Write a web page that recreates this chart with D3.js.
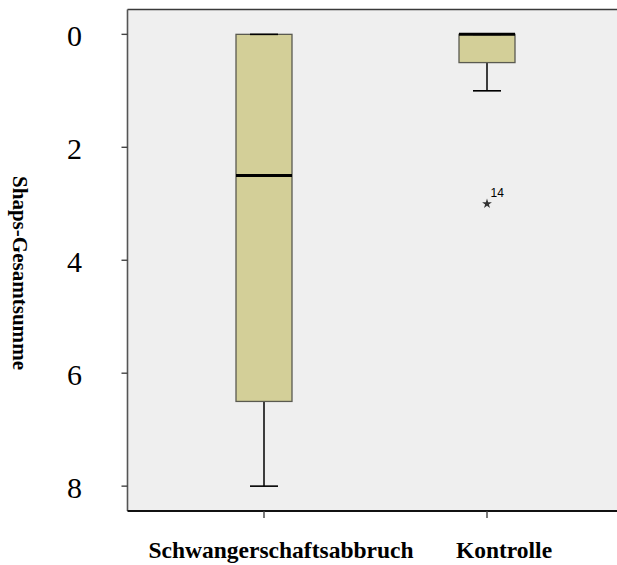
<!DOCTYPE html>
<html>
<head>
<meta charset="utf-8">
<script src="https://cdn.jsdelivr.net/npm/d3@7"></script>
<style>
  html, body { margin: 0; padding: 0; background: #ffffff; }
  svg { display: block; }
</style>
</head>
<body>
<svg id="chart" width="617" height="565"></svg>
<script>
// Box plot summaries per group (Shaps total score)
const categories = ["Schwangerschaftsabbruch", "Kontrolle"];
const whiskerLow = [0, 0];
const q1Values = [0, 0];
const medians = [2.5, 0];
const q3Values = [6.5, 0.5];
const whiskerHigh = [8, 1];
const outlierGroups = ["Kontrolle"];
const outlierValues = [3];
const outlierLabels = ["14"];
const yTicks = [0, 2, 4, 6, 8];
const yTitle = "Shaps-Gesamtsumme";

const svg = d3.select("#chart");

const plot = { left: 127.5, top: 9.5, right: 618, bottom: 511 };

// Inverted value axis: 0 at the top
const y = d3.scaleLinear().domain([-0.44, 8.44]).range([plot.top, plot.bottom]);
const x = d3.scalePoint().domain(categories).range([264, 487]);
const boxW = 56, capW = 28;

// plot background
svg.append("rect")
  .attr("x", plot.left).attr("y", plot.top)
  .attr("width", plot.right - plot.left).attr("height", plot.bottom - plot.top)
  .attr("fill", "#efefef");

// frame lines
svg.append("line").attr("x1", plot.left).attr("x2", plot.right)
  .attr("y1", plot.top).attr("y2", plot.top)
  .attr("stroke", "#3a3a3a").attr("stroke-width", 1.6);
svg.append("line").attr("x1", plot.left).attr("x2", plot.left)
  .attr("y1", plot.top).attr("y2", plot.bottom)
  .attr("stroke", "#555").attr("stroke-width", 1.6);
svg.append("line").attr("x1", plot.left).attr("x2", plot.right)
  .attr("y1", plot.bottom).attr("y2", plot.bottom)
  .attr("stroke", "#111").attr("stroke-width", 2);

// y axis ticks and labels
const yAxis = svg.append("g");
yAxis.selectAll("line.tick").data(yTicks).join("line")
  .attr("class", "tick")
  .attr("x1", plot.left - 6).attr("x2", plot.left)
  .attr("y1", d => y(d)).attr("y2", d => y(d))
  .attr("stroke", "#444").attr("stroke-width", 1.4);
yAxis.selectAll("text").data(yTicks).join("text")
  .attr("x", 74.5).attr("y", d => y(d) + 11.5)
  .attr("text-anchor", "middle")
  .attr("font-family", "'Liberation Serif', 'Times New Roman', serif")
  .attr("font-size", 30).attr("fill", "#000")
  .text(d => d);

// y axis title
svg.append("text")
  .attr("transform", "translate(13,176) rotate(90)")
  .attr("font-family", "'Liberation Serif', 'Times New Roman', serif")
  .attr("font-weight", "bold").attr("font-size", 20)
  .attr("textLength", 194).attr("lengthAdjust", "spacingAndGlyphs")
  .attr("fill", "#000")
  .text(yTitle);

// x axis ticks and labels
svg.selectAll("line.xtick").data(categories).join("line")
  .attr("class", "xtick")
  .attr("x1", d => x(d)).attr("x2", d => x(d))
  .attr("y1", plot.bottom).attr("y2", plot.bottom + 7)
  .attr("stroke", "#444").attr("stroke-width", 1.4);
svg.selectAll("text.xlabel").data(categories).join("text")
  .attr("class", "xlabel")
  .attr("x", d => x(d) + 17).attr("y", 558)
  .attr("text-anchor", "middle")
  .attr("font-family", "'Liberation Serif', 'Times New Roman', serif")
  .attr("font-weight", "bold").attr("font-size", 23.5).attr("fill", "#000")
  .text(d => d);

// boxes
const stats = categories.map((c, i) => ({
  cat: c, lo: whiskerLow[i], q1: q1Values[i], med: medians[i], q3: q3Values[i], hi: whiskerHigh[i]
}));
const g = svg.append("g");
stats.forEach(s => {
  const cx = x(s.cat);
  // whiskers
  g.append("line").attr("x1", cx).attr("x2", cx)
    .attr("y1", y(s.q3)).attr("y2", y(s.hi))
    .attr("stroke", "#000").attr("stroke-width", 1.5);
  g.append("line").attr("x1", cx).attr("x2", cx)
    .attr("y1", y(s.lo)).attr("y2", y(s.q1))
    .attr("stroke", "#000").attr("stroke-width", 1.5);
  // box
  g.append("rect")
    .attr("x", cx - boxW / 2).attr("y", y(s.q1))
    .attr("width", boxW).attr("height", y(s.q3) - y(s.q1))
    .attr("fill", "#d3cf98").attr("stroke", "#5a5a50").attr("stroke-width", 1.3);
  // whisker caps
  [s.lo, s.hi].forEach(v => {
    g.append("line").attr("x1", cx - capW / 2).attr("x2", cx + capW / 2)
      .attr("y1", y(v)).attr("y2", y(v))
      .attr("stroke", "#000").attr("stroke-width", 1.6);
  });
  // median
  g.append("line").attr("x1", cx - boxW / 2).attr("x2", cx + boxW / 2)
    .attr("y1", y(s.med)).attr("y2", y(s.med))
    .attr("stroke", "#000").attr("stroke-width", 3);
});

// extreme values
const star = d3.symbol().type(d3.symbolStar).size(30);
outlierValues.forEach((v, i) => {
  const cx = x(outlierGroups[i]);
  g.append("path").attr("d", star())
    .attr("transform", `translate(${cx},${y(v)})`)
    .attr("fill", "#333");
  g.append("text")
    .attr("x", cx + 3.5).attr("y", y(v) - 6.5)
    .attr("font-family", "'Liberation Sans', Arial, sans-serif")
    .attr("font-size", 12).attr("fill", "#000")
    .text(outlierLabels[i]);
});
</script>
</body>
</html>
